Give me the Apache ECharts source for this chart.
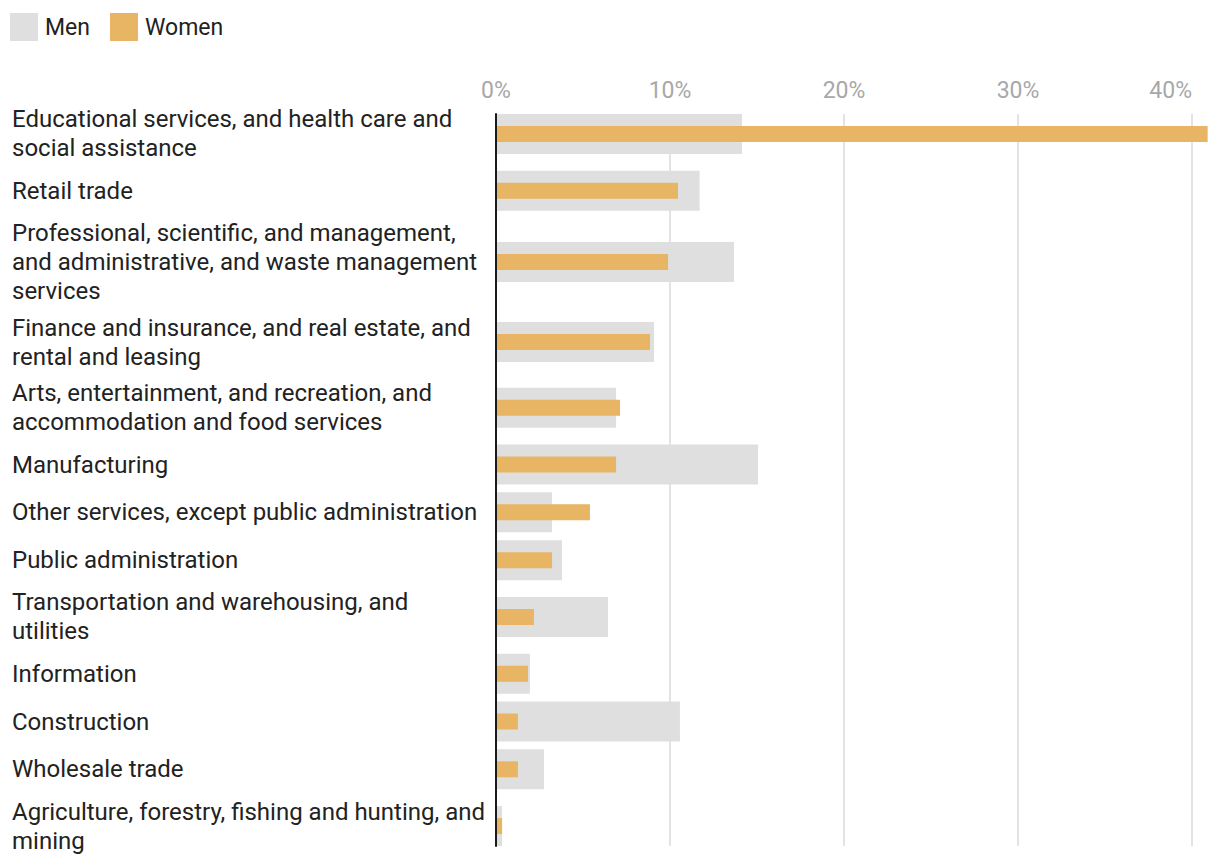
<!DOCTYPE html>
<html>
<head>
<meta charset="utf-8">
<script src="https://cdn.jsdelivr.net/npm/echarts@6/dist/echarts.min.js"></script>
<style>
  html, body { margin: 0; padding: 0; background: #ffffff; }
  #chart { width: 1220px; height: 866px; }
</style>
</head>
<body>
<div id="chart"></div>
<script>
// ---- Data ----
const categories = [
  "Educational services, and health care and\nsocial assistance",
  "Retail trade",
  "Professional, scientific, and management,\nand administrative, and waste management\nservices",
  "Finance and insurance, and real estate, and\nrental and leasing",
  "Arts, entertainment, and recreation, and\naccommodation and food services",
  "Manufacturing",
  "Other services, except public administration",
  "Public administration",
  "Transportation and warehousing, and\nutilities",
  "Information",
  "Construction",
  "Wholesale trade",
  "Agriculture, forestry, fishing and hunting, and\nmining"
];
const menValues   = [14.14, 11.7, 13.68, 9.08, 6.9, 15.06, 3.22, 3.79, 6.44, 1.95, 10.57, 2.76, 0.35];
const womenValues = [40.9, 10.46, 9.89, 8.85, 7.13, 6.9, 5.4, 3.22, 2.18, 1.84, 1.26, 1.26, 0.35];
const seriesNames = ["Men", "Women"];
const xTicks = [0, 10, 20, 30, 40];

// ---- Layout: row heights depend on number of label lines ----
const LINE_H = 29;
const rowHeights = categories.map(c => Math.max(48, c.split("\n").length * LINE_H + 8));
const rowCenters = [];
let acc = 0;
rowHeights.forEach(h => { rowCenters.push(acc + h / 2); acc += h; });
const yMin = rowCenters[0] - 20;
const yMax = rowCenters[rowCenters.length - 1] + 20;

const MEN_COLOR = "#dfdfdf";
const WOMEN_COLOR = "#e7b563";
const FONT = "Roboto";

function barRenderer(thickness) {
  return function (params, api) {
    const v = api.value(0), pos = api.value(1);
    const p0 = api.coord([0, pos]);
    const p1 = api.coord([v, pos]);
    return {
      type: "rect",
      shape: { x: p0[0], y: p0[1] - thickness / 2, width: p1[0] - p0[0], height: thickness },
      style: { fill: api.visual("color") }
    };
  };
}

const chart = echarts.init(document.getElementById("chart"), null, { renderer: "svg" });
chart.setOption({
  animation: false,
  backgroundColor: "#ffffff",
  textStyle: { fontFamily: FONT },
  legend: {
    data: seriesNames,
    left: 5, top: 8,
    icon: "rect",
    itemWidth: 28, itemHeight: 28, itemGap: 20,
    textStyle: { fontSize: 23, color: "#222222", fontFamily: FONT, padding: [0, 0, 0, 2] },
    selectedMode: false
  },
  grid: { left: 496, right: 28, top: 114, bottom: 20 },
  xAxis: {
    type: "value",
    position: "top",
    min: xTicks[0], max: xTicks[xTicks.length - 1], interval: 10,
    axisLine: { show: false },
    axisTick: { show: false },
    axisLabel: {
      formatter: "{value}%",
      color: "#a8a8a8", fontSize: 23, fontFamily: FONT, margin: 12,
      alignMaxLabel: "right"
    },
    splitLine: { show: true, showMinLine: false, lineStyle: { color: "#e3e3e3", width: 2 } }
  },
  yAxis: {
    type: "value",
    inverse: true,
    z: 10,
    min: yMin, max: yMax,
    axisLine: { show: true, lineStyle: { color: "#1a1a1a", width: 2 } },
    axisTick: { show: false },
    axisLabel: { show: false },
    splitLine: { show: false }
  },
  series: [
    {
      name: "Men", type: "custom", z: 2, clip: false,
      itemStyle: { color: MEN_COLOR },
      encode: { x: 0, y: 1 },
      renderItem: barRenderer(40),
      data: menValues.map((v, i) => [v, rowCenters[i]])
    },
    {
      name: "Women", type: "custom", z: 3, clip: false,
      itemStyle: { color: WOMEN_COLOR },
      encode: { x: 0, y: 1 },
      renderItem: barRenderer(16),
      data: womenValues.map((v, i) => [v, rowCenters[i]])
    },
    {
      name: "labels", type: "custom", z: 4, silent: true,
      encode: { x: 0, y: 1 },
      renderItem: function (params, api) {
        const p = api.coord([0, api.value(1)]);
        return {
          type: "text",
          x: 12, y: p[1],
          style: {
            text: categories[params.dataIndex],
            fill: "#222222",
            fontSize: 24, fontFamily: FONT,
            lineHeight: LINE_H,
            align: "left", verticalAlign: "middle"
          }
        };
      },
      data: rowCenters.map(c => [0, c])
    }
  ]
});
</script>
</body>
</html>
